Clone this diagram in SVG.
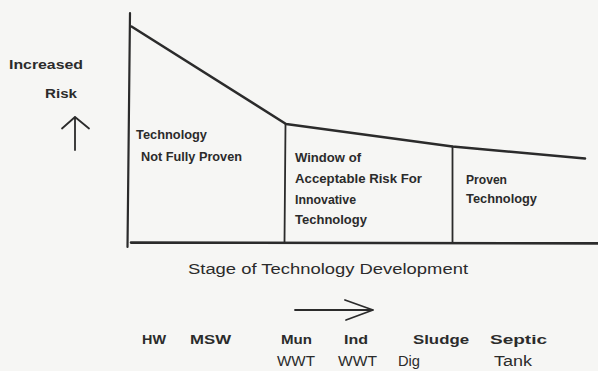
<svg xmlns="http://www.w3.org/2000/svg" width="598" height="371" viewBox="0 0 598 371">
<style>
.ink{stroke:#2b2b2b;fill:none;stroke-linecap:round;stroke-linejoin:round}
.b{font-family:"Liberation Sans",Arial,Helvetica,sans-serif;font-weight:bold;font-size:13.5px;fill:#2b2b2b}
.r{font-family:"Liberation Sans",Arial,Helvetica,sans-serif;font-size:14px;fill:#2b2b2b}
</style>
<rect width="598" height="371" fill="#f6f6f4"/>
<g id="axes">
<path class="ink" stroke-width="2.2" d="M130,13 L127.5,247"/>
<path class="ink" stroke-width="2.6" d="M131,242.6 L598,243.4"/>
</g>
<g id="connectors">
<path class="ink" stroke-width="2.6" d="M131.5,26.5 L286,124 L452.5,146.5 L585,158.5"/>
<path class="ink" stroke-width="1.8" d="M285.5,124 L284.5,242"/>
<path class="ink" stroke-width="1.8" d="M452.5,146.5 L452.5,242"/>
<path class="ink" stroke-width="1.8" d="M75,117 L75,150 M62,128.5 L75,117 L89,128.5"/>
<path class="ink" stroke-width="1.8" d="M295,310 L373,310 M345,300 L373,310 L346,320"/>
</g>
<g id="y-label">
<text class="b" x="9" y="69" font-size="14" textLength="74" lengthAdjust="spacingAndGlyphs">Increased</text>
<text class="b" x="45" y="98" font-size="14" textLength="32" lengthAdjust="spacingAndGlyphs">Risk</text>
</g>
<g id="region-not-proven">
<text class="b" x="136" y="138.5" textLength="71" lengthAdjust="spacingAndGlyphs">Technology</text>
<text class="b" x="141" y="160.5" textLength="101" lengthAdjust="spacingAndGlyphs">Not Fully Proven</text>
</g>
<g id="region-window">
<text class="b" x="295" y="161.5" textLength="66" lengthAdjust="spacingAndGlyphs">Window of</text>
<text class="b" x="295" y="182.5" textLength="127" lengthAdjust="spacingAndGlyphs">Acceptable Risk For</text>
<text class="b" x="295" y="203.5" textLength="61" lengthAdjust="spacingAndGlyphs">Innovative</text>
<text class="b" x="295" y="223.5" textLength="72" lengthAdjust="spacingAndGlyphs">Technology</text>
</g>
<g id="region-proven">
<text class="b" x="466" y="183.5" textLength="41" lengthAdjust="spacingAndGlyphs">Proven</text>
<text class="b" x="466" y="203" textLength="71" lengthAdjust="spacingAndGlyphs">Technology</text>
</g>
<g id="x-label">
<text class="r" x="188" y="273.5" font-size="14.5" textLength="280" lengthAdjust="spacingAndGlyphs">Stage of Technology Development</text>
</g>
<g id="waste-types">
<text class="b" x="142" y="344" font-size="13.5" textLength="24" lengthAdjust="spacingAndGlyphs">HW</text>
<text class="b" x="190" y="344" font-size="13.5" textLength="41" lengthAdjust="spacingAndGlyphs">MSW</text>
<text class="b" x="281" y="344" font-size="13.5" textLength="31" lengthAdjust="spacingAndGlyphs">Mun</text>
<text class="b" x="344" y="344" font-size="13.5" textLength="24" lengthAdjust="spacingAndGlyphs">Ind</text>
<text class="b" x="413" y="344" font-size="13.5" textLength="56" lengthAdjust="spacingAndGlyphs">Sludge</text>
<text class="b" x="490" y="344" font-size="13.5" textLength="57" lengthAdjust="spacingAndGlyphs">Septic</text>
<text class="r" x="277" y="365.5" font-size="14" textLength="38" lengthAdjust="spacingAndGlyphs">WWT</text>
<text class="r" x="338" y="365.5" font-size="14" textLength="39" lengthAdjust="spacingAndGlyphs">WWT</text>
<text class="r" x="398" y="365.5" font-size="14" textLength="22" lengthAdjust="spacingAndGlyphs">Dig</text>
<text class="r" x="494" y="365.5" font-size="14" textLength="38" lengthAdjust="spacingAndGlyphs">Tank</text>
</g>
</svg>
